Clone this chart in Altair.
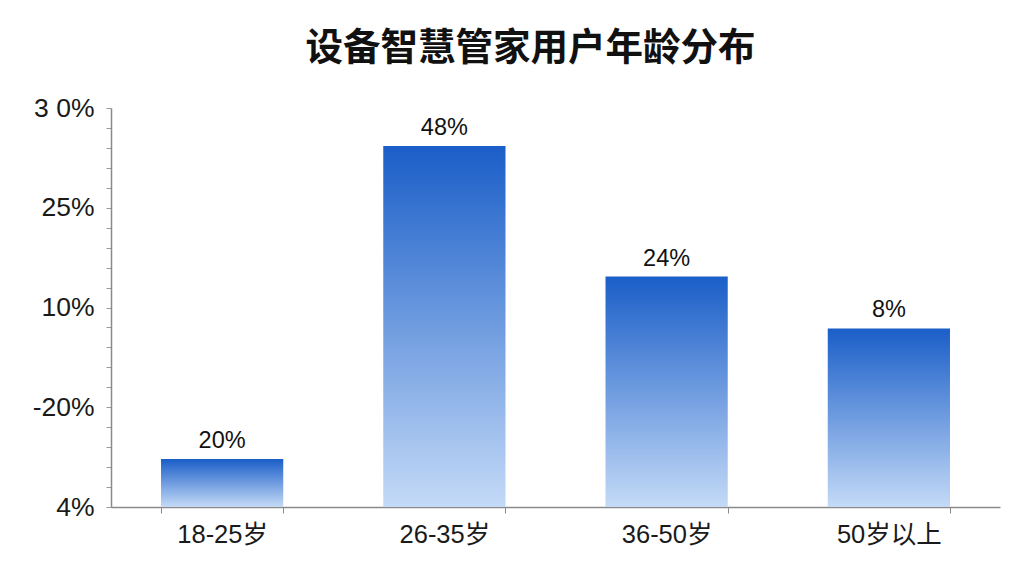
import altair as alt
import pandas as pd

categories = ["18-25岁", "26-35岁", "36-50岁", "50岁以上"]
bar_heights = [0.48, 3.62, 2.31, 1.79]
bar_labels = ["20%", "48%", "24%", "8%"]
y_tick_values = [0, 1, 2, 3, 4]
y_tick_labels = ["4%", "-20%", "10%", "25%", "3 0%"]
minor_ticks = [round(i * 0.2, 1) for i in range(21)]

df = pd.DataFrame({"cat": categories, "h": bar_heights, "lab": bar_labels})

label_expr = " : ".join(
    [f"abs(datum.value - {v}) < 0.01 ? '{l}'" for v, l in zip(y_tick_values, y_tick_labels)]
) + " : ''"

x_enc = alt.X(
    "cat:N",
    sort=categories,
    scale=alt.Scale(paddingInner=0.45, paddingOuter=0.225),
    axis=alt.Axis(
        title=None,
        labelAngle=0,
        labelFont="Liberation Sans, Noto Sans CJK SC",
        labelFontSize=25.5,
        labelColor="#1a1a1a",
        labelPadding=9,
        domainColor="#8a8a8a",
        domainWidth=1.5,
        tickColor="#8a8a8a",
        tickSize=6,
        tickBand="extent",
    ),
)

y_enc = alt.Y(
    "h:Q",
    scale=alt.Scale(domain=[0, 4], nice=False),
    axis=alt.Axis(
        title=None,
        values=minor_ticks,
        labelExpr=label_expr,
        labelFont="Liberation Sans",
        labelFontSize=26.5,
        labelColor="#1a1a1a",
        labelPadding=12,
        labelOverlap=False,
        labelBound=False,
        domainColor="#8a8a8a",
        domainWidth=1.5,
        tickColor="#9a9a9a",
        tickSize=5,
        grid=False,
    ),
)

base = alt.Chart(df).encode(x=x_enc, y=y_enc)

bars = base.mark_bar(
    color=alt.Gradient(
        gradient="linear",
        stops=[
            alt.GradientStop(color="#1a5ec8", offset=0),
            alt.GradientStop(color="#c4daf7", offset=1),
        ],
        x1=0, x2=0, y1=0, y2=1,
    )
)

text = base.mark_text(
    font="Liberation Sans",
    fontSize=23.5,
    color="#111111",
    baseline="alphabetic",
    dy=-11,
).encode(text="lab:N")

chart = (
    alt.layer(bars, text)
    .properties(
        width=889,
        height=399,
        autosize=alt.AutoSizeParams(type="none"),
        padding={"left": 103, "top": 100, "right": 16, "bottom": 60},
        view=alt.ViewBackground(stroke="transparent", strokeWidth=0, strokeOpacity=0),
        title=alt.TitleParams(
            "设备智慧管家用户年龄分布",
            font="Noto Sans CJK SC",
            fontSize=37.5,
            fontWeight="bold",
            color="#111111",
            anchor="middle",
            dx=-25,
            offset=28,
        ),
    )
    .configure_view(stroke="transparent", strokeWidth=0, strokeOpacity=0)
    .configure(background="white")
)

chart.save("out.html", embed_options={"renderer": "svg", "actions": False})
